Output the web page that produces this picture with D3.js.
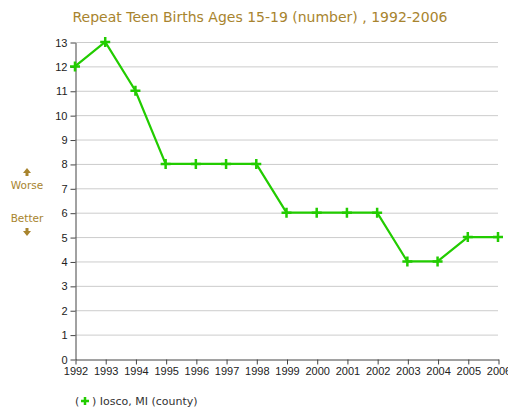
<!DOCTYPE html>
<html>
<head>
<meta charset="utf-8">
<script src="https://cdn.jsdelivr.net/npm/d3@7"></script>
<style>
  body { margin: 0; background: #fff; }
  svg text { font-family: "DejaVu Sans", Verdana, sans-serif; }
</style>
</head>
<body>
<script>
var years = [1992, 1993, 1994, 1995, 1996, 1997, 1998, 1999, 2000, 2001, 2002, 2003, 2004, 2005, 2006];
var births = [12, 13, 11, 8, 8, 8, 8, 6, 6, 6, 6, 4, 4, 5, 5];
var yTicks = [0, 1, 2, 3, 4, 5, 6, 7, 8, 9, 10, 11, 12, 13];

var width = 508,
    height = 412;

var svg = d3.select("body").append("svg")
    .attr("width", width)
    .attr("height", height);

var x = d3.scaleLinear().domain([1992, 2006]).range([75, 498]);
var y = d3.scaleLinear().domain([0, 13]).range([359, 42]);

// title
svg.append("text")
    .attr("x", 260)
    .attr("y", 22)
    .attr("text-anchor", "middle")
    .style("font-size", "14px")
    .style("fill", "#a8842e")
    .text("Repeat Teen Births Ages 15-19 (number) , 1992-2006");

// grid
svg.append("g")
  .selectAll("line")
    .data(yTicks.slice(1))
  .enter().append("line")
    .attr("x1", x(1992))
    .attr("x2", x(2006))
    .attr("y1", function(d) { return y(d) + 0.5; })
    .attr("y2", function(d) { return y(d) + 0.5; })
    .style("stroke", "#cccccc")
    .style("stroke-width", 1);

// axes
var yAxis = svg.append("g")
    .attr("transform", "translate(" + (x(1992) + 0.5) + ",0.5)")
    .call(d3.axisLeft(y).tickValues(yTicks).tickSize(5).tickSizeOuter(0).tickPadding(3));

var xAxis = svg.append("g")
    .attr("transform", "translate(0.5," + (y(0) + 0.5) + ")")
    .call(d3.axisBottom(x).tickValues(years).tickFormat(d3.format("d")).tickSize(5).tickSizeOuter(0).tickPadding(3));

[yAxis, xAxis].forEach(function(a) {
  a.selectAll("path, line").style("stroke", "#444").style("stroke-width", 1);
  a.selectAll("text")
      .style("font-family", "'Liberation Sans', Arial, sans-serif")
      .style("font-size", "11px")
      .style("fill", "#222");
});

// worse / better
var side = svg.append("g").style("fill", "#a8842e");
side.append("path").attr("d", "M23,173 L27,168 L31,173 L28.5,173 L28.5,176 L25.5,176 L25.5,173 Z");
side.append("text").attr("x", 27).attr("y", 189).attr("text-anchor", "middle")
    .style("font-size", "10.5px").text("Worse");
side.append("text").attr("x", 27).attr("y", 222).attr("text-anchor", "middle")
    .style("font-size", "10.5px").text("Better");
side.append("path").attr("d", "M23,231 L27,236 L31,231 L28.5,231 L28.5,228 L25.5,228 L25.5,231 Z");

// line
var line = d3.line()
    .x(function(d, i) { return x(years[i]); })
    .y(function(d) { return y(d); });

svg.append("path")
    .datum(births)
    .attr("d", line)
    .style("fill", "none")
    .style("stroke", "#22cc00")
    .style("stroke-width", 2.2);

// markers
var plus = "M-5,0 L5,0 M0,-5 L0,5";
svg.append("g")
  .selectAll("path")
    .data(births)
  .enter().append("path")
    .attr("transform", function(d, i) { return "translate(" + x(years[i]) + "," + y(d) + ")"; })
    .attr("d", plus)
    .style("stroke", "#22cc00")
    .style("stroke-width", 2.5);

// legend
var leg = svg.append("g").attr("transform", "translate(75,405)");
leg.append("text").attr("x", 0).attr("y", 0)
    .style("font-size", "11px").style("fill", "#333").text("(");
leg.append("path").attr("d", "M6,-4 L14,-4 M10,-8 L10,0")
    .style("stroke", "#22cc00").style("stroke-width", 2.5);
leg.append("text").attr("x", 17).attr("y", 0)
    .style("font-size", "11px").style("fill", "#333").text(")  Iosco, MI (county)");
</script>
</body>
</html>
